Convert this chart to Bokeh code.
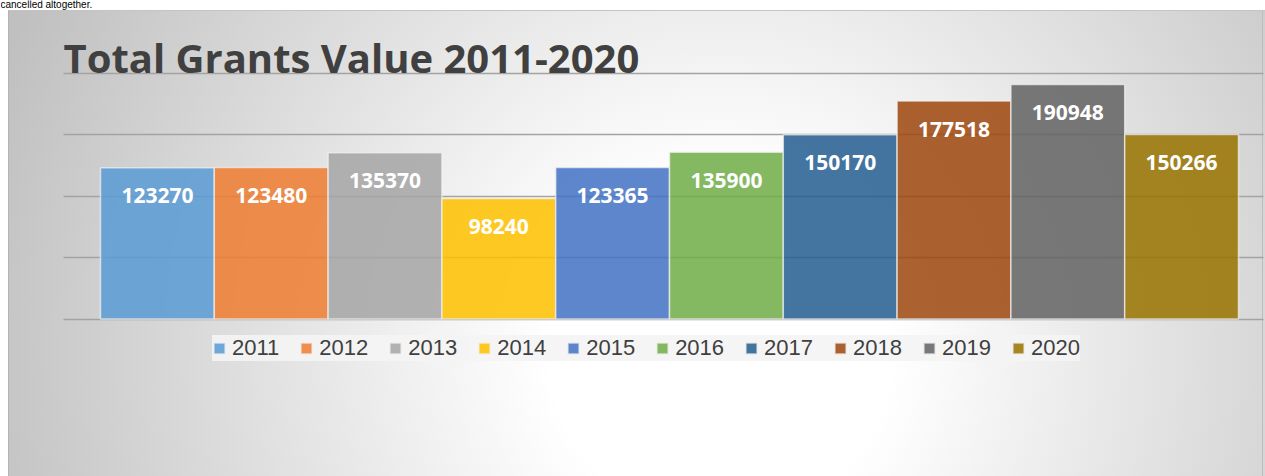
from bokeh.plotting import figure
from bokeh.models import ColumnDataSource, Range1d, Grid, FixedTicker, Legend, LegendItem, Label
from bokeh.core.properties import value
from bokeh.embed import file_html
from bokeh.resources import INLINE

# ---- data ----
years = [2011, 2012, 2013, 2014, 2015, 2016, 2017, 2018, 2019, 2020]
grants = [123270, 123480, 135370, 98240, 123365, 135900, 150170, 177518, 190948, 150266]
colors = ["#5B9BD5", "#ED7D31", "#A5A5A5", "#FFC000", "#4472C4",
          "#70AD47", "#255E91", "#9E480E", "#636363", "#997300"]
grid_ticks = [0, 50000, 100000, 150000, 200000]
title_text = "Total Grants Value 2011-2020"
page_text = "cancelled altogether."

src = ColumnDataSource(dict(
    year=years,
    label=[str(y) for y in years],
    grant=grants,
    text=[str(g) for g in grants],
    color=colors,
))

W, H = 1265, 476
PX_PER_X = 113.8
X0 = 2010.5 - 100 / PX_PER_X          # canvas left edge
X1 = X0 + W / PX_PER_X                # canvas right edge
PLOT_LEFT = X0 + 63 / PX_PER_X        # left end of the gridlines
PLOT_RIGHT = X0 + 1263 / PX_PER_X     # right end of the gridlines
Y0, Y1 = -128300, 259470
UNITS_PER_PX_Y = (Y1 - Y0) / H

p = figure(width=W, height=H, output_backend="svg", toolbar_location=None,
           x_axis_location=None, y_axis_location=None,
           x_range=Range1d(X0, X1), y_range=Range1d(Y0, Y1),
           min_border_left=0, min_border_right=0, min_border_top=0, min_border_bottom=0)
p.grid.visible = False
p.border_fill_alpha = 0
p.background_fill_alpha = 0
p.outline_line_color = None
p.styles = {
    "background": (
        "linear-gradient(#ffffff, #ffffff) left top / 8px 100% no-repeat, "
        "linear-gradient(#ffffff, #ffffff) left top / 100% 10px no-repeat, "
        "linear-gradient(#b4b4b4, #b4b4b4) 8px 10px / 1px 100% no-repeat, "
        "linear-gradient(#c4c4c4, #c4c4c4) 8px 10px / 100% 1px no-repeat, "
        "linear-gradient(#bdbdbd, #bdbdbd) 1262px 10px / 1px 100% no-repeat, "
        "radial-gradient(circle at 720px 350px, #ffffff 0px, #ffffff 170px, #c0c0c0 770px)"
    ),
}

grid = Grid(dimension=1, ticker=FixedTicker(ticks=grid_ticks),
            cross_bounds=(PLOT_LEFT, PLOT_RIGHT),
            grid_line_color="#a3a3a3", grid_line_width=1.5)
p.add_layout(grid)

bars = p.vbar(x="year", top="grant", bottom=0, width=1.0, source=src,
              fill_color="color", fill_alpha=0.86,
              line_color="#f2f2f2", line_alpha=0.7, line_width=1.5)

p.text(x="year", y="grant", text="text", source=src, y_offset=28,
       text_align="center", text_baseline="middle",
       text_font=value("Open Sans"), text_font_style="bold",
       text_font_size="21px", text_color="white")

# title: baseline sits on the top gridline
p.add_layout(Label(x=PLOT_LEFT, y=200000 + 16 * UNITS_PER_PX_Y, text=title_text,
                   text_font="Open Sans", text_font_style="bold",
                   text_font_size="40px", text_color="#404040",
                   text_align="left", text_baseline="alphabetic"))

# fragment of the surrounding page text above the chart
p.add_layout(Label(x=X0, y=Y1 - 4 * UNITS_PER_PX_Y, text=page_text,
                   text_font="Liberation Sans", text_font_size="10px",
                   text_color="#000000", text_align="left", text_baseline="alphabetic"))

items = [LegendItem(label=str(y), renderers=[bars], index=i) for i, y in enumerate(years)]
legend = Legend(items=items, orientation="horizontal", location=(212, 115),
                glyph_width=14, glyph_height=14, label_standoff=6, spacing=20,
                padding=6, margin=0,
                label_text_font="Liberation Sans", label_text_font_size="22px",
                label_text_color="#404040",
                background_fill_color="#f4f4f4", background_fill_alpha=0.9,
                border_line_color=None)
p.add_layout(legend)

open("out.html", "w").write(file_html(p, INLINE))
